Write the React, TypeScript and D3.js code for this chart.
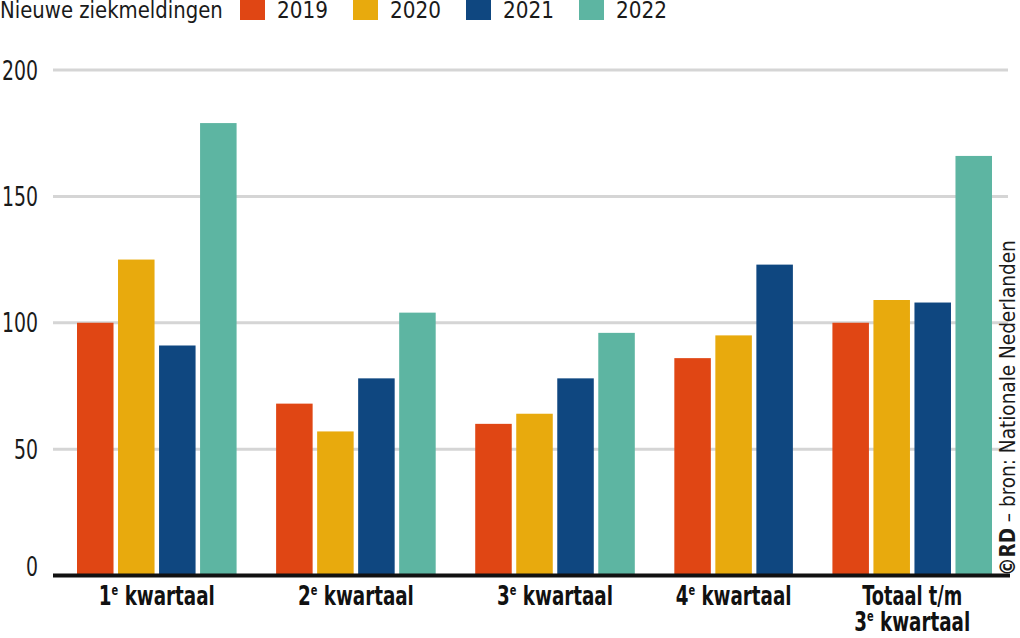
import React, { useLayoutEffect, useRef, useState } from "react";
import * as d3 from "d3";

const categories = ["1|kwartaal", "2|kwartaal", "3|kwartaal", "4|kwartaal", "Totaal t/m|3|kwartaal"];
const years = ["2019", "2020", "2021", "2022"];
const colors = ["#E04614", "#E8AA0D", "#0F4780", "#5DB5A2"];
const values2019 = [100, 68, 60, 86, 100];
const values2020 = [125, 57, 64, 95, 109];
const values2021 = [91, 78, 78, 123, 108];
const values2022: (number | null)[] = [179, 104, 96, null, 166];
const yTicks = [0, 50, 100, 150, 200];
const legendTitle = "Nieuwe ziekmeldingen";
const sourceBold = "©RD";
const sourceText = " – bron: Nationale Nederlanden";

const W = 1020;
const H = 638;
const FONT = "'DejaVu Sans Condensed', 'Liberation Sans', sans-serif";

function Fit(props: {
  x: number;
  y: number;
  width: number;
  anchor?: string;
  rotate?: number;
  children: any;
  [k: string]: any;
}) {
  const { x, y, width, anchor, rotate, children, ...rest } = props;
  const ref = useRef<SVGTextElement>(null);
  const [s, setS] = useState(1);
  useLayoutEffect(() => {
    if (ref.current) {
      const w = ref.current.getBBox().width;
      if (w > 0) setS(width / w);
    }
  }, [width]);
  return (
    <g transform={`translate(${x},${y})${rotate ? ` rotate(${rotate})` : ""} scale(${s},1)`}>
      <text ref={ref} textAnchor={anchor || "start"} {...rest}>
        {children}
      </text>
    </g>
  );
}

export default function App() {
  const series = [values2019, values2020, values2021, values2022];
  const groupGap = 35 / 41;
  const barUnit = 36.5 / 41;

  type Bar = { g: number; s: number; v: number; unit: number };
  const bars: Bar[] = [];
  const groupUnits: { start: number; end: number }[] = [];
  let idx = 0;
  categories.forEach((_, g) => {
    const start = idx + g * groupGap;
    let count = 0;
    series.forEach((arr, s) => {
      const v = arr[g];
      if (v == null) return;
      bars.push({ g, s, v, unit: idx + g * groupGap });
      idx++;
      count++;
    });
    groupUnits.push({ start, end: start + (count - 1) + barUnit });
  });
  const lastUnit = bars[bars.length - 1].unit + barUnit;

  const x = d3.scaleLinear().domain([0, lastUnit]).range([77, 992]);
  const y = d3.scaleLinear().domain([0, 200]).range([575.5, 70]);
  const legendX = d3.scaleLinear().domain([0, 1]).range([240, 353]);

  return (
    <svg
      width={W}
      height={H}
      style={{ position: "absolute", left: 0, top: 0, background: "#fff" }}
      fontFamily={FONT}
    >
      {/* legend */}
      <Fit x={0} y={18} width={223} fontSize={23} fill="#1a1a1a">
        {legendTitle}
      </Fit>
      {years.map((yr, i) => (
        <g key={yr}>
          <rect x={legendX(i)} y={-5} width={25} height={25} fill={colors[i]} />
          <Fit x={legendX(i) + 37} y={18} width={51} fontSize={23} fill="#1a1a1a">
            {yr}
          </Fit>
        </g>
      ))}

      {/* gridlines */}
      {yTicks.filter((t) => t > 0).map((t) => (
        <line key={t} x1={53} x2={1008} y1={y(t)} y2={y(t)} stroke="#d5d5d5" strokeWidth={3} />
      ))}
      {yTicks.map((t) => (
        <Fit
          key={t}
          x={38}
          y={Math.min(y(t), y(0) - 9) + 9.5}
          width={12 * String(t).length}
          anchor="end"
          fontSize={26}
          fill="#1a1a1a"
        >
          {t}
        </Fit>
      ))}

      {/* bars */}
      {bars.map((b, i) => (
        <rect
          key={i}
          x={x(b.unit)}
          y={y(b.v)}
          width={x(barUnit) - x(0)}
          height={y(0) - y(b.v)}
          fill={colors[b.s]}
        />
      ))}

      {/* baseline */}
      <line x1={53} x2={1010} y1={y(0)} y2={y(0)} stroke="#111" strokeWidth={4} />

      {/* x labels */}
      {categories.map((c, g) => {
        const cx = (x(groupUnits[g].start) + x(groupUnits[g].end)) / 2;
        const parts = c.split("|");
        const lines: { num?: string; rest: string; pre?: string }[] =
          parts.length === 2
            ? [{ num: parts[0], rest: " " + parts[1] }]
            : [{ pre: parts[0], rest: "" }, { num: parts[1], rest: " " + parts[2] }];
        return (
          <g key={c}>
            {lines.map((ln, li) => (
              <Fit
                key={li}
                x={cx}
                y={605 + li * 26}
                width={ln.pre != null ? 100 : 116}
                anchor="middle"
                fontSize={26}
                fontWeight="bold"
                fill="#111"
              >
                {ln.pre != null ? (
                  ln.pre
                ) : (
                  <>
                    {ln.num}
                    <tspan fontSize={14} dy={-10}>e</tspan>
                    <tspan dy={10}>{ln.rest}</tspan>
                  </>
                )}
              </Fit>
            ))}
          </g>
        );
      })}

      {/* source */}
      <Fit x={1015} y={576} rotate={-90} width={336} fontSize={21} fill="#1a1a1a">
        <tspan fontWeight="bold">{sourceBold}</tspan>
        <tspan>{sourceText}</tspan>
      </Fit>
    </svg>
  );
}
